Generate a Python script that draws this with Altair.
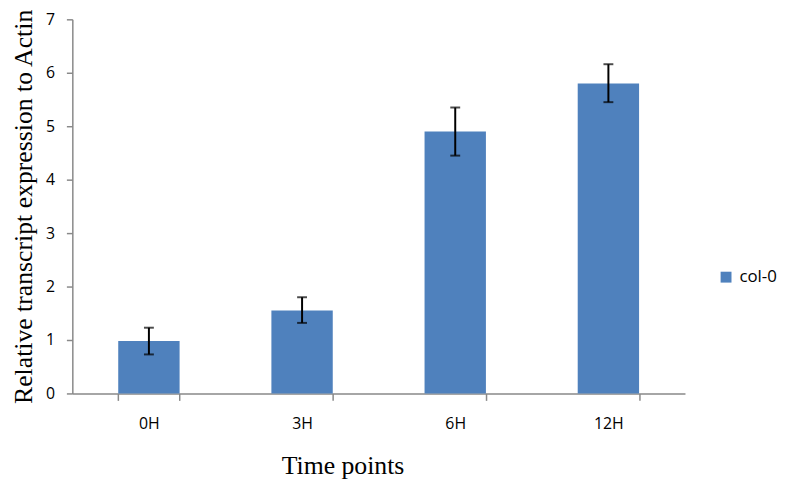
import altair as alt
import pandas as pd

categories = ["0H", "3H", "6H", "12H"]
values = [0.98, 1.55, 4.90, 5.80]
err_low = [0.73, 1.32, 4.45, 5.45]
err_high = [1.23, 1.80, 5.35, 6.16]
series = ["col-0"] * 4

df = pd.DataFrame({
    "time": categories,
    "value": values,
    "lo": err_low,
    "hi": err_high,
    "series": series,
})

x_enc = alt.X(
    "time:N",
    sort=categories,
    scale=alt.Scale(paddingInner=0.6, paddingOuter=0.3),
    axis=alt.Axis(
        title="Time points",
        labelAngle=0,
        tickBand="extent",
        tickSize=7,
        labelPadding=15,
        titlePadding=22,
        labelFont="Open Sans",
        labelFontSize=16,
        labelColor="#000000",
        titleFont="Liberation Serif",
        titleFontSize=26,
        titleFontWeight="normal",
        titleColor="#000000",
        titleX=273,
        domainColor="#898989",
        tickColor="#898989",
        domainWidth=1.5,
        tickWidth=1.5,
    ),
)

bars = alt.Chart(df).mark_bar(size=62).encode(
    x=x_enc,
    y=alt.Y(
        "value:Q",
        scale=alt.Scale(domain=[0, 7]),
        axis=alt.Axis(
            title="Relative transcript expression to Actin",
            values=[0, 1, 2, 3, 4, 5, 6, 7],
            format="d",
            grid=False,
            tickSize=6,
            labelPadding=12,
            titlePadding=9,
            labelFont="Open Sans",
            labelFontSize=16,
            labelColor="#000000",
            titleFont="Liberation Serif",
            titleFontSize=26,
            titleFontWeight="normal",
            titleColor="#000000",
            domainColor="#898989",
            tickColor="#898989",
            domainWidth=1.5,
            tickWidth=1.5,
        ),
    ),
    color=alt.Color(
        "series:N",
        scale=alt.Scale(range=["#4F81BD"]),
        legend=alt.Legend(
            title=None,
            orient="none",
            legendX=652,
            legendY=252,
            symbolType="square",
            symbolSize=121,
            symbolStrokeWidth=0,
            labelFont="Open Sans",
            labelFontSize=17,
            labelColor="#000000",
            labelOffset=5,
        ),
    ),
)

rules = alt.Chart(df).mark_rule(color="#000000", strokeWidth=2).encode(
    x=alt.X("time:N", sort=categories),
    y="lo:Q",
    y2="hi:Q",
)

caps_hi = alt.Chart(df).mark_tick(color="#000000", thickness=2, size=10).encode(
    x=alt.X("time:N", sort=categories),
    y="hi:Q",
)
caps_lo = alt.Chart(df).mark_tick(color="#000000", thickness=2, size=10).encode(
    x=alt.X("time:N", sort=categories),
    y="lo:Q",
)

chart = alt.layer(bars, rules, caps_hi, caps_lo).properties(
    width=619,
    height=378,
    background="#ffffff",
    autosize=alt.AutoSizeParams(type="none"),
    padding={"left": 65, "top": 9, "right": 95, "bottom": 84},
).configure_view(stroke=None)

chart.save("out.html", embed_options={"renderer": "svg", "actions": False})
